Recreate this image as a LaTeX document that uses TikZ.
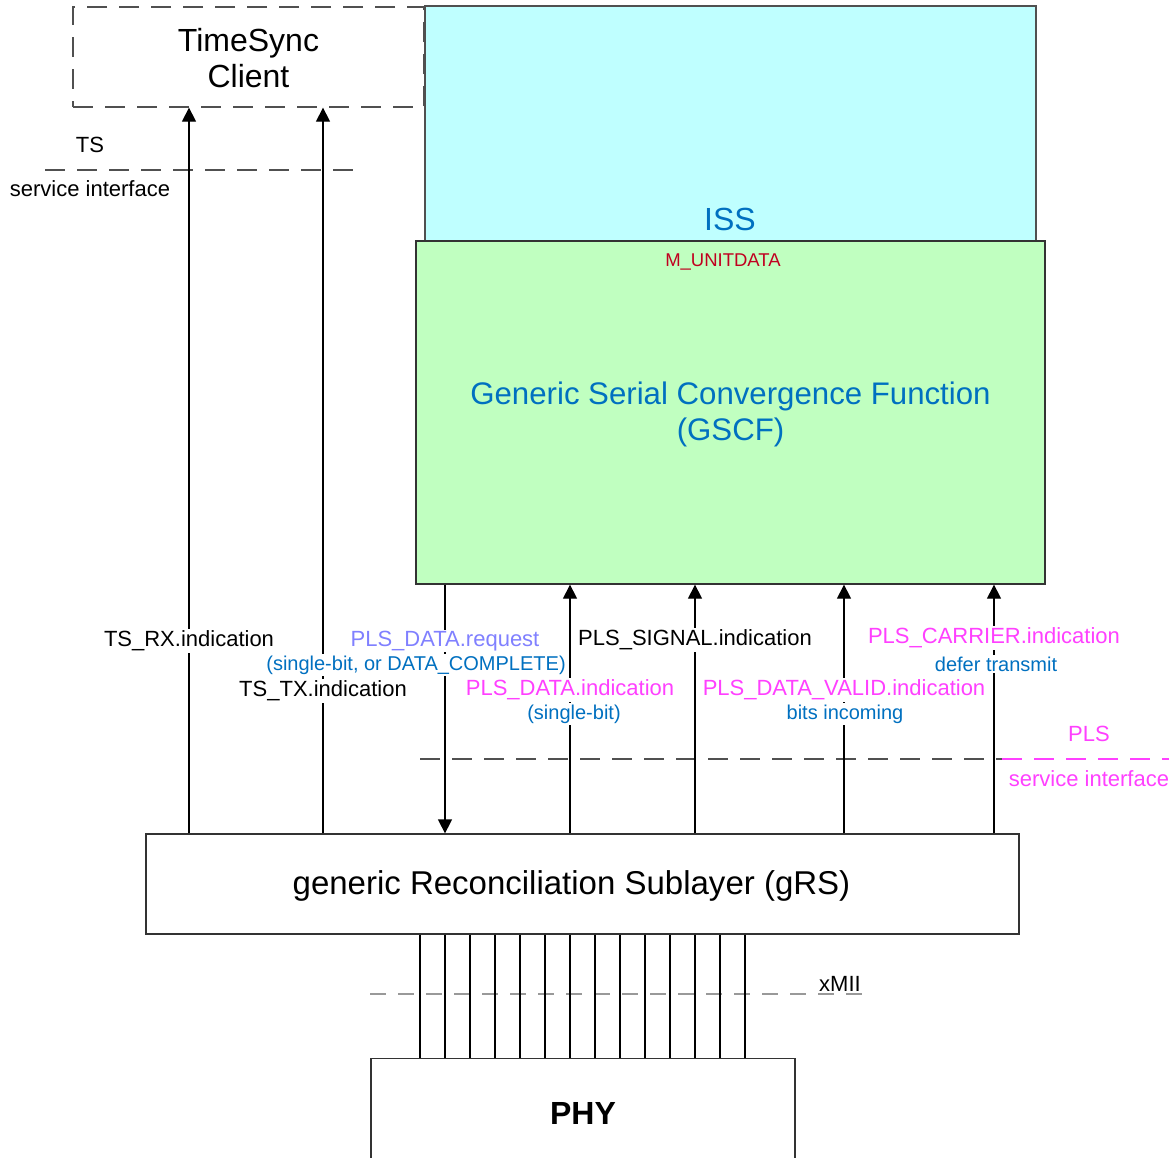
\documentclass[tikz,border=0pt]{standalone}
\usepackage{fontspec}
\setmainfont{Liberation Sans}
\usetikzlibrary{arrows.meta}
\definecolor{isscyan}{HTML}{BFFFFF}
\definecolor{gscfgreen}{HTML}{C0FFC0}
\definecolor{txtblue}{HTML}{0070C0}
\definecolor{txtmag}{HTML}{FF40FF}
\definecolor{txtpurp}{HTML}{8080FF}
\definecolor{txtred}{HTML}{C00020}
\definecolor{bordgray}{HTML}{505050}
\tikzset{
  box/.style={draw=bordgray, line width=1.3pt, inner sep=0pt},
  dbox/.style={draw=bordgray, line width=1.3pt, dash pattern=on 20pt off 12pt, inner sep=0pt},
  conn/.style={line width=1.3pt, draw=black},
  arr/.style={conn, -{Triangle[width=14pt,length=14pt]}},
  big/.style={font=\fontsize{32}{36}\selectfont},
  lbl/.style={fill=white, inner sep=1.5pt, font=\fontsize{22}{24}\selectfont},
  sublbl/.style={fill=white, inner sep=1.5pt, text=txtblue, font=\fontsize{20}{22}\selectfont},
  plain/.style={inner sep=0pt, font=\fontsize{22}{24}\selectfont},
  ifline/.style={line width=1.3pt, draw=bordgray, dash pattern=on 20pt off 12pt},
}
\begin{document}
\begin{tikzpicture}[x=1pt,y=-1pt]
\useasboundingbox (0,0) rectangle (1169,1157);

% boxes
\node[dbox, minimum width=351pt, minimum height=100pt] (ts) at (248.5,57) {};
\node[big, align=center, inner sep=0pt] (tslbl2) at (248.5,58) {TimeSync\\Client};
\node[box, fill=isscyan, minimum width=611pt, minimum height=235pt] (iss) at (730.5,123.5) {};
\node[box, fill=gscfgreen, draw=black!80, minimum width=629pt, minimum height=343pt] (gscf) at (730.5,412.5) {};
\node[align=center, text=txtblue, inner sep=0pt, font=\fontsize{31.2}{36}\selectfont] (gscflbl) at (730.5,414) {Generic Serial Convergence Function\\(GSCF)};
\node[big, text=txtblue, inner sep=0pt] (isslbl) at (730,219) {ISS};
\node[inner sep=0pt, text=txtred, font=\fontsize{18.5}{20}\selectfont] (munit) at (723,262) {M\_UNITDATA};
\node[box, fill=white, draw=black!80, minimum width=873pt, minimum height=100pt] (grs) at (582.5,884) {};
\node[inner sep=0pt, font=\fontsize{33}{36}\selectfont] (grslbl) at (571.5,886) {generic Reconciliation Sublayer (gRS)};
\node[box, fill=white, draw=black!80, minimum width=424pt, minimum height=120pt, anchor=north] (phy) at (583,1058) {};
\node[inner sep=0pt, font=\fontsize{32}{36}\bfseries\selectfont] (phylbl) at (583,1113) {PHY};

% service interface lines
\coordinate (tsa) at (45,170);
\coordinate (tsb) at (358,170);
\draw[ifline] (tsa) -- (tsb);
\node[plain] (tslbl) at (90,145) {TS};
\node[plain] (tssi) at (90,189) {service interface};

\coordinate (plsa) at (420,759);
\coordinate (plsb) at (1002,759);
\coordinate (plsc) at (1169,759);
\draw[ifline] (plsa) -- (plsb);
\draw[ifline, draw=txtmag] (plsb) -- (plsc);
\node[plain, text=txtmag] (plslbl) at (1089,734) {PLS};
\node[plain, text=txtmag] (plssi) at (1089,779) {service interface};

\coordinate (xa) at (370,994);
\coordinate (xb) at (872,994);
\draw[line width=1.3pt, draw=black!40, dash pattern=on 16pt off 12pt] (xa) -- (xb);
\node[plain] (xmii) at (840,984) {xMII};

% xMII wires
\foreach \i in {0,...,13} {
  \coordinate (w\i) at (420+25*\i,0);
  \draw[conn, line width=1.1pt] (w\i |- grs.south) -- (w\i |- phy.north);
}

% vertical connectors
\coordinate (xrx) at (189,0);
\coordinate (xtx) at (323,0);
\coordinate (xreq) at (445,0);
\coordinate (xind) at (570,0);
\coordinate (xsig) at (695,0);
\coordinate (xval) at (844,0);
\coordinate (xcar) at (994,0);
\draw[arr] (xrx |- grs.north) -- (xrx |- ts.south);
\draw[arr] (xtx |- grs.north) -- (xtx |- ts.south);
\draw[arr] (xreq |- gscf.south) -- (xreq |- grs.north);
\draw[arr] (xind |- grs.north) -- (xind |- gscf.south);
\draw[arr] (xsig |- grs.north) -- (xsig |- gscf.south);
\draw[arr] (xval |- grs.north) -- (xval |- gscf.south);
\draw[arr] (xcar |- grs.north) -- (xcar |- gscf.south);

% labels
\node[lbl] (rxl) at (189,641) {TS\_RX.indication};
\node[sublbl] (reqs) at (416,665) {(single-bit, or DATA\_COMPLETE)};
\node[lbl, text=txtpurp] (reql) at (445,641) {PLS\_DATA.request};
\node[lbl] (txl) at (323,691) {TS\_TX.indication};
\node[lbl, text=txtmag] (indl) at (570,690) {PLS\_DATA.indication};
\node[sublbl] (inds) at (574,714) {(single-bit)};
\node[lbl] (sigl) at (695,640) {PLS\_SIGNAL.indication};
\node[lbl, text=txtmag] (vall) at (844,690) {PLS\_DATA\_VALID.indication};
\node[sublbl] (vals) at (845,714) {bits incoming};
\node[lbl, text=txtmag] (carl) at (994,638) {PLS\_CARRIER.indication};
\node[sublbl] (cars) at (996,664) {defer transmit};
\end{tikzpicture}
\end{document}
